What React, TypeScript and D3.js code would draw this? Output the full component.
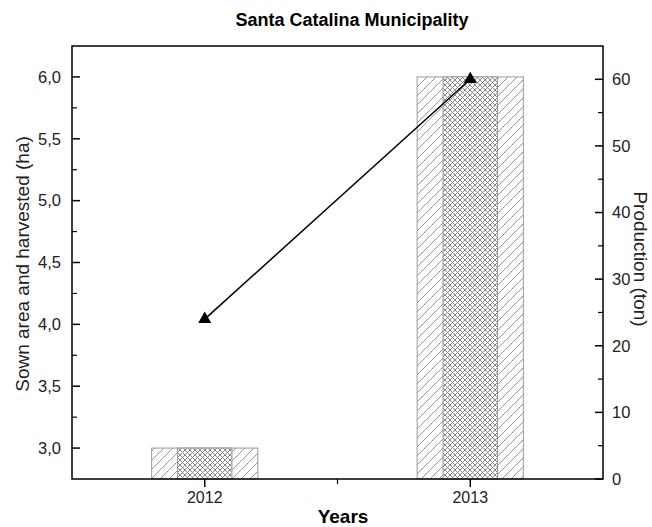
import React from "react";
import * as d3 from "d3";

const years = [2012, 2013];
const sownArea = [3.0, 6.0];
const harvestedArea = [3.0, 6.0];
const production = [24, 60];
const leftTicks = [3.0, 3.5, 4.0, 4.5, 5.0, 5.5, 6.0];
const rightTicks = [0, 10, 20, 30, 40, 50, 60];

const W = 652;
const H = 527;
const M = { left: 72, right: 603, top: 46, bottom: 479 };
const FONT = "'Liberation Sans', Arial, sans-serif";

export default function App() {
  const x = d3.scaleLinear().domain([2011.5, 2013.5]).range([M.left, M.right]);
  const yL = d3.scaleLinear().domain([2.75, 6.25]).range([M.bottom, M.top]);
  const yR = d3.scaleLinear().domain([0, 65]).range([M.bottom, M.top]);
  const step = x(2013) - x(2012);
  const wideW = step * 0.4;
  const narrowW = step * 0.205;

  const leftMinor = d3.range(2.75, 6.26, 0.25).filter(
    (v) => !leftTicks.some((t) => Math.abs(t - v) < 1e-6) && v > 2.76 && v < 6.24
  );
  const rightMinor = d3.range(5, 65, 10);
  const xMinor = [2012.5];

  const line = d3
    .line<number>()
    .x((_, i) => x(years[i]))
    .y((d) => yR(d));
  const tri = d3.symbol().type(d3.symbolTriangle).size(75)() as string;

  return (
    <svg
      width={W}
      height={H}
      style={{ position: "absolute", left: 0, top: 0, background: "#fff" }}
      fontFamily={FONT}
    >
      <defs>
        <pattern id="diag" patternUnits="userSpaceOnUse" width={9} height={9}>
          <rect width={9} height={9} fill="#fff" />
          <path d="M0,9 L9,0 M-2,2 L2,-2 M7,11 L11,7" stroke="#8a8a8a" strokeWidth={0.9} />
        </pattern>
        <pattern id="cross" patternUnits="userSpaceOnUse" width={5} height={5}>
          <rect width={5} height={5} fill="#fff" />
          <path
            d="M0,5 L5,0 M-1,1 L1,-1 M4,6 L6,4 M0,0 L5,5 M-1,4 L1,6 M4,-1 L6,1"
            stroke="#7a7a7a"
            strokeWidth={0.9}
          />
        </pattern>
      </defs>

      <text x={352} y={26} textAnchor="middle" fontWeight="bold" fontSize={18}>
        Santa Catalina Municipality
      </text>

      {/* bars */}
      {years.map((yr, i) => (
        <g key={yr}>
          <rect
            x={x(yr) - wideW / 2}
            y={yL(sownArea[i])}
            width={wideW}
            height={M.bottom - yL(sownArea[i])}
            fill="url(#diag)"
            stroke="#999"
            strokeWidth={1}
          />
          <rect
            x={x(yr) - narrowW / 2}
            y={yL(harvestedArea[i])}
            width={narrowW}
            height={M.bottom - yL(harvestedArea[i])}
            fill="url(#cross)"
            stroke="#999"
            strokeWidth={1}
          />
        </g>
      ))}

      {/* production line */}
      <path d={line(production) || ""} fill="none" stroke="#000" strokeWidth={1.5} />
      {production.map((p, i) => (
        <path key={i} d={tri} transform={`translate(${x(years[i])},${yR(p)})`} fill="#000" />
      ))}

      {/* frame */}
      <rect
        x={M.left}
        y={M.top}
        width={M.right - M.left}
        height={M.bottom - M.top}
        fill="none"
        stroke="#000"
        strokeWidth={1.5}
      />

      {/* left axis */}
      {leftTicks.map((t) => (
        <g key={t}>
          <line x1={M.left} x2={M.left + 8} y1={yL(t)} y2={yL(t)} stroke="#000" strokeWidth={1.5} />
          <text x={61} y={yL(t)} dy="0.35em" textAnchor="end" fontSize={16.5} fill="#222">
            {t.toFixed(1).replace(".", ",")}
          </text>
        </g>
      ))}
      {leftMinor.map((t) => (
        <line key={t} x1={M.left} x2={M.left + 5} y1={yL(t)} y2={yL(t)} stroke="#000" strokeWidth={1.2} />
      ))}

      {/* right axis */}
      {rightTicks.map((t) => (
        <g key={t}>
          <line x1={M.right - 8} x2={M.right} y1={yR(t)} y2={yR(t)} stroke="#000" strokeWidth={1.5} />
          <text x={612} y={yR(t)} dy="0.35em" textAnchor="start" fontSize={16.5} fill="#222">
            {t}
          </text>
        </g>
      ))}
      {rightMinor.map((t) => (
        <line key={t} x1={M.right - 5} x2={M.right} y1={yR(t)} y2={yR(t)} stroke="#000" strokeWidth={1.2} />
      ))}

      {/* bottom axis */}
      {years.map((yr) => (
        <g key={yr}>
          <line x1={x(yr)} x2={x(yr)} y1={M.bottom} y2={M.bottom + 8} stroke="#000" strokeWidth={1.5} />
          <text x={x(yr)} y={503} textAnchor="middle" fontSize={16} fill="#222">
            {yr}
          </text>
        </g>
      ))}
      {xMinor.map((v) => (
        <line key={v} x1={x(v)} x2={x(v)} y1={M.bottom} y2={M.bottom + 5} stroke="#000" strokeWidth={1.2} />
      ))}

      <text x={343} y={523} textAnchor="middle" fontWeight="bold" fontSize={19}>
        Years
      </text>
      <text
        transform={`translate(24,${264}) rotate(-90)`}
        textAnchor="middle"
        dominantBaseline="middle"
        fontSize={19}
        fill="#222"
      >
        Sown area and harvested (ha)
      </text>
      <text
        transform={`translate(639,${259}) rotate(90)`}
        textAnchor="middle"
        dominantBaseline="middle"
        fontSize={19}
        fill="#222"
      >
        Production (ton)
      </text>
    </svg>
  );
}
